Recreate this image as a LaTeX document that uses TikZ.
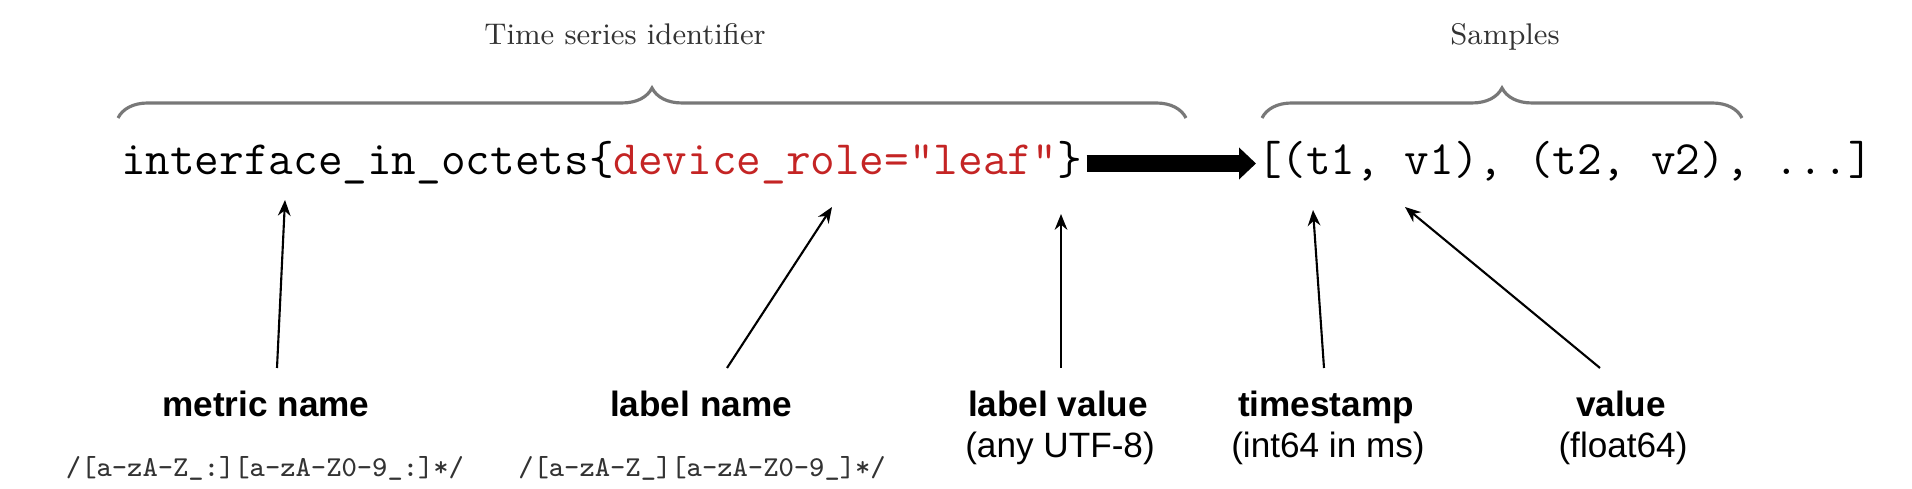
\documentclass[tikz,border=0pt]{standalone}
\usepackage{fontspec}
\setsansfont{Liberation Sans}
\usetikzlibrary{arrows.meta,decorations.pathreplacing,positioning}
\definecolor{keyred}{RGB}{196,36,36}
\definecolor{bracegray}{RGB}{120,120,120}

\begin{document}
\begin{tikzpicture}[x=0.01cm,y=-0.01cm,>={Stealth[length=4.5pt,width=3.6pt]},
                    semithick]
  \tikzstyle{code}=[font=\ttfamily\fontsize{13.6}{16}\selectfont,inner sep=0pt,anchor=base west]
  \tikzstyle{bracelabel}=[font=\fontsize{8.5}{10}\selectfont,text=black!80,inner sep=0pt,anchor=base]
  \tikzstyle{fieldname}=[font=\sffamily\bfseries\fontsize{10}{12}\selectfont,inner sep=0pt,anchor=base]
  \tikzstyle{fieldnote}=[font=\sffamily\fontsize{10}{12}\selectfont,inner sep=0pt,anchor=base]
  \tikzstyle{regexp}=[font=\ttfamily\fontsize{8.2}{10}\selectfont,text=black!80,inner sep=0pt,anchor=base]
  \tikzstyle{curly}=[bracegray,line width=0.9pt,decorate,decoration={brace,amplitude=0.3cm}]

  \useasboundingbox (0,0) rectangle (1912,489);

  % the series and its samples
  \node[code] (key)     at (120,175)  {interface\_in\_octets\{\textcolor{keyred}{device\_role="leaf"}\}};
  \node[code] (samples) at (1256,175) {[(t1, v1), (t2, v2), ...]};

  \draw[line width=0.17cm,-{Triangle[length=0.17cm,width=0.31cm]}]
    ([xshift=0.04cm,yshift=0.115cm]key.base east) -- ([yshift=0.115cm]samples.base west);

  % braces
  \coordinate (idleft)   at (118,118);
  \coordinate (idright)  at (1186,118);
  \coordinate (smpleft)  at (1262,118);
  \coordinate (smpright) at (1742,118);
  \draw[curly] (idleft) -- (idright);
  \draw[curly] (smpleft) -- (smpright);
  \node[bracelabel] (idlabel)  at (625,45)  {Time series identifier};
  \node[bracelabel] (smplabel) at (1505,45) {Samples};

  % parts
  \node[fieldname] (metric)     at (266,417)  {metric name};
  \node[regexp]    (metricre)   at (265,477)  {/[a-zA-Z\_:][a-zA-Z0-9\_:]*/};
  \node[fieldname] (lname)      at (701,417)  {label name};
  \node[regexp]    (lnamere)    at (702,477)  {/[a-zA-Z\_][a-zA-Z0-9\_]*/};
  \node[fieldname] (lvalue)     at (1058,417) {label value};
  \node[fieldnote] (lvaluenote) at (1060,458) {(any UTF-8)};
  \node[fieldname] (tstamp)     at (1326,417) {timestamp};
  \node[fieldnote] (tstampnote) at (1328,458) {(int64 in ms)};
  \node[fieldname] (val)        at (1621,417) {value};
  \node[fieldnote] (valnote)    at (1623,458) {(float64)};

  \coordinate (metrictip)  at (285,200);
  \coordinate (metricfoot) at (277,368);
  \coordinate (lnametip)   at (832,207);
  \coordinate (lnamefoot)  at (727,368);
  \coordinate (lvaluetip)  at (1061,214);
  \coordinate (lvaluefoot) at (1061,368);
  \coordinate (tstamptip)  at (1313,210);
  \coordinate (tstampfoot) at (1324,368);
  \coordinate (valtip)     at (1405,207);
  \coordinate (valfoot)    at (1600,368);

  \path[->] (metricfoot) edge (metrictip)
            (lnamefoot)  edge (lnametip)
            (lvaluefoot) edge (lvaluetip)
            (tstampfoot) edge (tstamptip)
            (valfoot)    edge (valtip);
\end{tikzpicture}
\end{document}
